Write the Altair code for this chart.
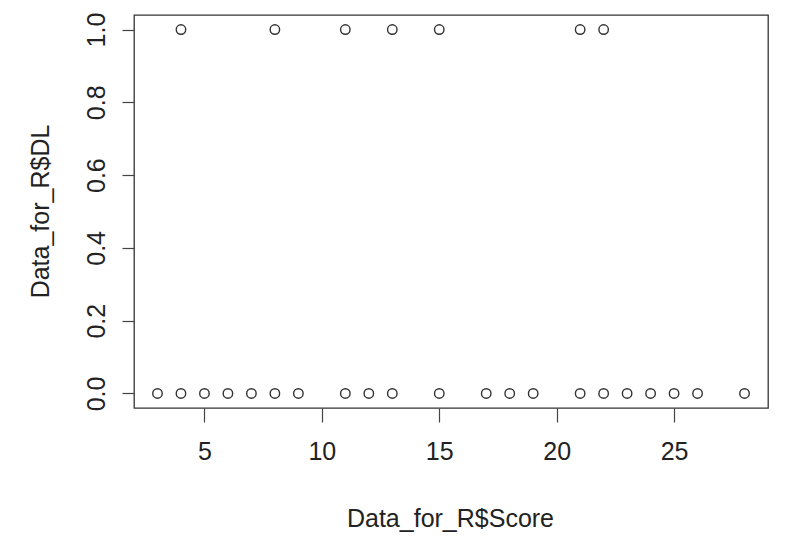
import altair as alt
import pandas as pd

score_0 = [3, 4, 5, 6, 7, 8, 9, 11, 12, 13, 15, 17, 18, 19, 21, 22, 23, 24, 25, 26, 28]
score_1 = [4, 8, 11, 13, 15, 21, 22]
x_ticks = [5, 10, 15, 20, 25]
y_ticks = [0.0, 0.2, 0.4, 0.6, 0.8, 1.0]

df = pd.DataFrame({
    "Score": score_0 + score_1,
    "DL": [0] * len(score_0) + [1] * len(score_1),
})

FONT = "Liberation Sans"
FS = 25

chart = alt.Chart(df).mark_point(
    shape="circle", filled=False, size=90, strokeWidth=1.4, color="#333333", opacity=1
).encode(
    x=alt.X("Score:Q", scale=alt.Scale(domain=[2, 29], nice=False, zero=False),
            axis=alt.Axis(values=x_ticks, title="Data_for_R$Score", grid=False, domain=False,
                          tickSize=14, tickColor="#444444", tickWidth=1.2,
                          labelFontSize=FS, labelFont=FONT, labelColor="#222222",
                          labelPadding=17, labelFlush=False,
                          titleFont=FONT, titleFontSize=FS, titleFontWeight="normal",
                          titleColor="#222222", titleX=316, titleY=110,
                          titleBaseline="middle", titleAlign="center")),
    y=alt.Y("DL:Q", scale=alt.Scale(domain=[-0.04, 1.04], nice=False, zero=False),
            axis=alt.Axis(values=y_ticks, format=".1f", title="Data_for_R$DL", grid=False,
                          domain=False, tickSize=12, tickColor="#444444", tickWidth=1.2,
                          labelAngle=270, labelAlign="center", labelBaseline="bottom",
                          labelFontSize=FS, labelFont=FONT, labelColor="#222222",
                          labelPadding=13, labelFlush=False,
                          titleFont=FONT, titleFontSize=FS, titleFontWeight="normal",
                          titleColor="#222222", titleX=-94, titleY=196,
                          titleAngle=270, titleBaseline="middle", titleAlign="center")),
).properties(
    width=634, height=393,
    autosize=alt.AutoSizeParams(type="none"),
    padding={"left": 126, "top": 7, "right": 13, "bottom": 136},
).configure(
    background="white"
).configure_view(
    stroke="#333333", strokeWidth=1.3, fill="white"
)

chart.save("out.html", embed_options={"renderer": "svg", "actions": False})
